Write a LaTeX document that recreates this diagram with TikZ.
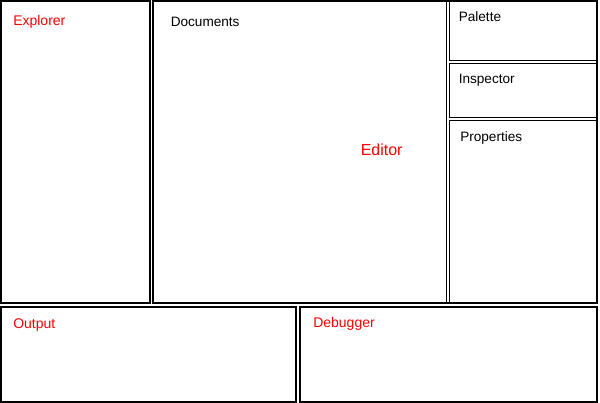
\documentclass[tikz,border=0pt]{standalone}
\usepackage{fontspec}
\setmainfont{Liberation Sans}
\begin{document}
\begin{tikzpicture}[x=0.75pt,y=-0.75pt,
  panel/.style={draw=black,line width=1.5pt},
  subpanel/.style={draw=black,line width=0.75pt},
  redlabel/.style={text=red,font=\fontsize{10.5}{12}\selectfont,inner sep=0pt,anchor=base west},
  blacklabel/.style={text=black,font=\fontsize{10.2}{12}\selectfont,inner sep=0pt,anchor=base west}]
\useasboundingbox (0,0) rectangle (600,403);
\fill[white] (0,0) rectangle (600,403);
% thin inner panels of the editor
\draw[subpanel] (153,1) rectangle (446.5,303);
\draw[subpanel] (449.5,1) rectangle (597,60.5);
\draw[subpanel] (449.5,63.5) rectangle (597,118);
\draw[subpanel] (449.5,121) rectangle (597,303);
% thick outer panels
\draw[panel] (1,1) rectangle (150,303);
\draw[panel] (153,1) rectangle (597,303);
\draw[panel] (1,307) rectangle (296,402);
\draw[panel] (300,307) rectangle (597,402);
% labels
\node[redlabel] (explorer) at (13,26) {Explorer};
\node[blacklabel] (documents) at (170.5,27) {Documents};
\node[redlabel,font=\fontsize{12}{14}\selectfont] (editor) at (360.5,156) {Editor};
\node[blacklabel] (palette) at (458.5,22) {Palette};
\node[blacklabel] (inspector) at (458.5,84) {Inspector};
\node[blacklabel] (properties) at (460,142) {Properties};
\node[redlabel] (output) at (13,328) {Output};
\node[redlabel] (debugger) at (313,327) {Debugger};
\end{tikzpicture}
\end{document}
